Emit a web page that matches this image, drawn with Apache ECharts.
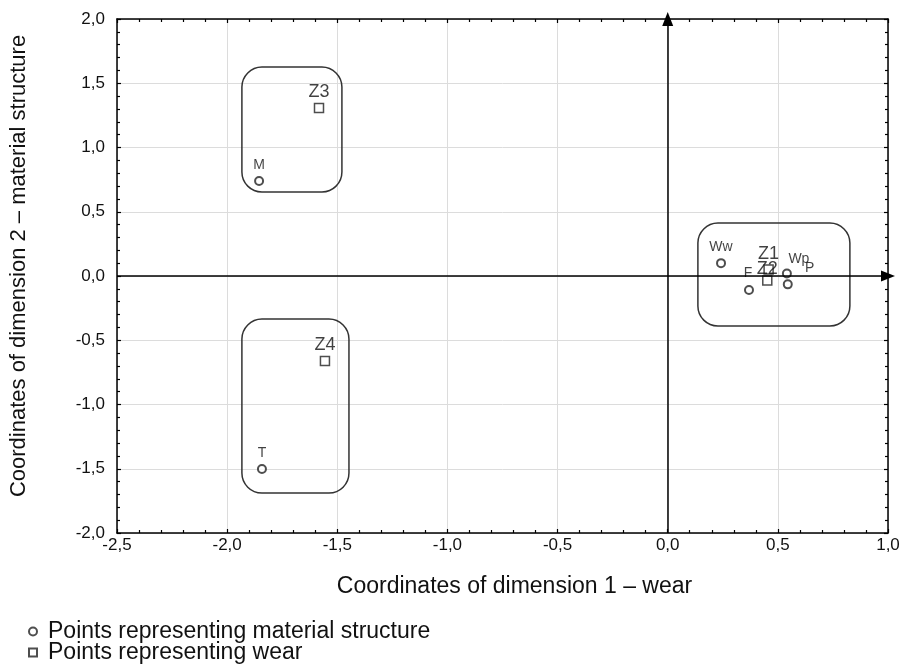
<!DOCTYPE html>
<html><head><meta charset="utf-8">
<script src="https://cdn.jsdelivr.net/npm/echarts@6/dist/echarts.min.js"></script>
<style>html,body{margin:0;padding:0;background:#fff}#c{width:899px;height:670px}</style>
</head><body><div id="c"></div>
<script>
// Data
var structNames = ['M', 'T', 'Ww', 'F', 'Wp', 'P'];
var structX = [-1.855, -1.842, 0.242, 0.369, 0.541, 0.545];
var structY = [0.739, -1.502, 0.10, -0.109, 0.02, -0.065];
var wearNames = ['Z1', 'Z2', 'Z3', 'Z4'];
var wearX = [0.458, 0.452, -1.583, -1.556];
var wearY = [0.05, -0.035, 1.307, -0.661];
var xTicks = [-2.5, -2.0, -1.5, -1.0, -0.5, 0.0, 0.5, 1.0];
var yTicks = [-2.0, -1.5, -1.0, -0.5, 0.0, 0.5, 1.0, 1.5, 2.0];
// group boxes in data units: [xMin, xMax, yMin, yMax]
var boxXMin = [-1.933, -1.933, 0.137];
var boxXMax = [-1.479, -1.447, 0.827];
var boxYMin = [0.654, -1.689, -0.389];
var boxYMax = [1.626, -0.335, 0.412];
var seriesNames = ['Points representing material structure', 'Points representing wear'];

// label style offsets (style only)
var labelOffsets = {M:[0,-1], T:[0,-1], Ww:[0,-1], F:[-1,-2], Wp:[12,1], P:[22,-1], Z1:[0,2], Z2:[0,6], Z3:[0,1], Z4:[0,1]};

var FONT = '"Liberation Sans", Arial, sans-serif';
function fmt(v){ return v.toFixed(1).replace('.', ','); }
function mk(names, xs, ys, big){
  return names.map(function(n,i){
    return {name:n, value:[xs[i], ys[i]], label:{show:true, formatter:n, position:'top', distance:3,
      offset: labelOffsets[n] || [0,0], fontSize: big ? 18 : 14, color:'#111', fontFamily:FONT}};
  });
}
var chart = echarts.init(document.getElementById('c'));
var axisCommon = {
  min: 0, max: 0, interval: 0.5,
  axisLine:{show:true, onZero:false, lineStyle:{color:'#000', width:1.5}},
  axisTick:{show:true, inside:true, length:4, lineStyle:{color:'#000', width:1.2}},
  minorTick:{show:true, splitNumber:5, length:3, lineStyle:{color:'#000', width:1.2}},
  splitLine:{show:false}
};
function ax(extra){ return Object.assign({}, JSON.parse(JSON.stringify(axisCommon)), extra); }
var legendStyle = {orient:'vertical', left:28, padding:0, itemWidth:8, itemHeight:8,
  textStyle:{fontSize:23, color:'#111', fontFamily:FONT, padding:[0,0,0,6]}};
chart.setOption({
  animation:false,
  backgroundColor:'#fff',
  textStyle:{fontFamily:FONT},
  grid:{left:117, top:19, right:11, bottom:137, containLabel:false, outerBoundsMode:'none'},
  legend:[
    Object.assign({top:620, data:[seriesNames[0]]}, legendStyle),
    Object.assign({top:641, data:[seriesNames[1]]}, legendStyle)
  ],
  xAxis:[
    ax({type:'value', min:xTicks[0], max:xTicks[xTicks.length-1], position:'bottom',
      splitLine:{show:true, lineStyle:{color:'#dcdcdc', width:1}},
      axisLabel:{formatter:fmt, fontSize:17, color:'#111', margin:4, fontFamily:FONT, showMaxLabel:true},
      name:'Coordinates of dimension 1 – wear', nameLocation:'middle', nameGap:42,
      nameTextStyle:{fontSize:23, color:'#111', fontFamily:FONT, padding:[0,0,0,24]}}),
    ax({type:'value', min:xTicks[0], max:xTicks[xTicks.length-1], position:'top', axisLabel:{show:false}})
  ],
  yAxis:[
    ax({type:'value', min:yTicks[0], max:yTicks[yTicks.length-1], position:'left',
      splitLine:{show:true, lineStyle:{color:'#dcdcdc', width:1}},
      axisLabel:{formatter:fmt, fontSize:17, color:'#111', margin:12, fontFamily:FONT},
      name:'Coordinates of dimension 2 – material structure', nameLocation:'middle', nameGap:87,
      nameTextStyle:{fontSize:22, color:'#111', fontFamily:FONT, padding:[0,0,0,20]}}),
    ax({type:'value', min:yTicks[0], max:yTicks[yTicks.length-1], position:'right', axisLabel:{show:false}})
  ],
  series:[
    {name:seriesNames[0], type:'scatter', symbol:'emptyCircle', symbolSize:8,
     itemStyle:{color:'#222', borderColor:'#222', borderWidth:1.5},
     data: mk(structNames, structX, structY, false),
     markLine:{silent:true, symbol:['none','triangle'], symbolSize:[11,14],
       lineStyle:{color:'#000', width:1.5, type:'solid'}, label:{show:false},
       data:[{xAxis:0},{yAxis:0}]},
     z:3},
    {name:seriesNames[1], type:'scatter', symbol:'rect', symbolSize:9,
     itemStyle:{color:'#fff', borderColor:'#222', borderWidth:1.5},
     data: mk(wearNames, wearX, wearY, true), z:3}
  ]
});
function drawBoxes(){
  var els = boxXMin.map(function(_, i){
    var p1 = chart.convertToPixel({gridIndex:0}, [boxXMin[i], boxYMax[i]]);
    var p2 = chart.convertToPixel({gridIndex:0}, [boxXMax[i], boxYMin[i]]);
    return {type:'rect', shape:{x:p1[0], y:p1[1], width:p2[0]-p1[0], height:p2[1]-p1[1], r:20},
      style:{fill:null, stroke:'#333', lineWidth:1.5}, z:2, silent:true};
  });
  chart.setOption({graphic:els});
}
drawBoxes();
</script></body></html>
